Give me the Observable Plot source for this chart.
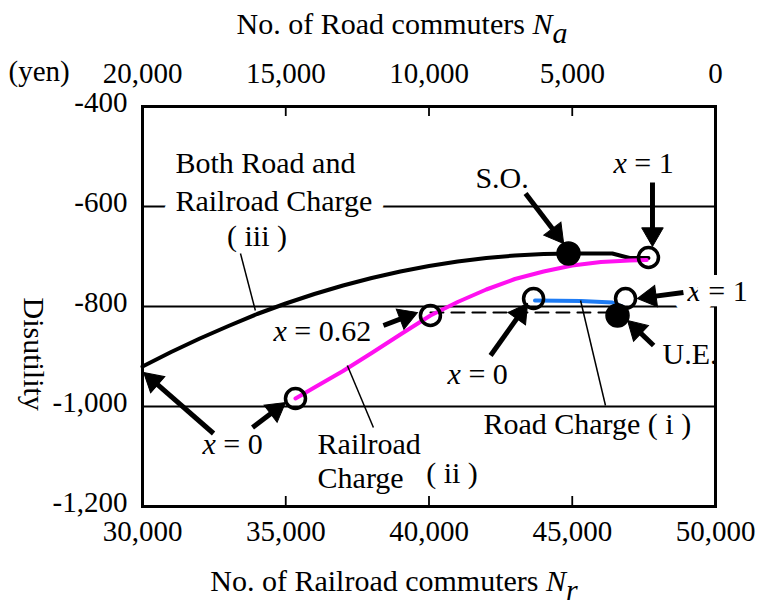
<!DOCTYPE html>
<html><head><meta charset="utf-8">
<script src="https://cdn.jsdelivr.net/npm/d3@7"></script>
<script src="https://cdn.jsdelivr.net/npm/@observablehq/plot@0.6"></script>
<style>body{margin:0;background:#fff}</style>
</head><body><div id="chart"></div>
<script>
// ---------- axis ticks ----------
const xTickValues = [30000, 35000, 40000, 45000, 50000];
const xTickLabels = ["30,000", "35,000", "40,000", "45,000", "50,000"];
const topTickLabels = ["20,000", "15,000", "10,000", "5,000", "0"];
const yTickValues = [-400, -600, -800, -1000, -1200];
const yTickLabels = ["-400", "-600", "-800", "-1,000", "-1,200"];
const gridValues = [-600, -800, -1000];

// ---------- series ----------
// (iii) Both Road and Railroad Charge
const bothNr = [30000, 31000, 32000, 33000, 34000, 35000, 36000, 37000, 38000, 39000, 40000, 41000, 42000, 43000, 44000, 45000, 46400, 47000, 47660];
const bothU  = [-920, -891, -864, -839, -815, -794, -775, -758, -743, -730, -719, -710, -703, -698, -695, -694, -694, -703, -703];
// (ii) Railroad Charge
const railNr = [35340, 36000, 37000, 38000, 39000, 40050, 41000, 42000, 43000, 44000, 45000, 46000, 47000, 47600];
const railU  = [-984, -962, -929, -893, -856, -818, -791, -766, -745, -730, -718, -711, -708, -707];
// (i) Road Charge
const roadNr = [43700, 45300, 46400, 46750];
const roadU  = [-788, -789, -792, -800];
// dashed reference (x = 0.62 to U.E.)
const dashNr = [40050, 46580];
const dashU  = [-812, -812];
// open circles (x = 0, 0.62, 1 end points)
const openNr = [35340, 40050, 43650, 46860, 47660];
const openU  = [-984, -818, -784, -784, -702];
// filled points
const solidName = ["S.O.", "U.E."];
const solidNr = [44870, 46580];
const solidU  = [-694, -818];

// ---------- annotations ----------
const labelText = ["Both Road and", "( iii )", "S.O.", "x = 1", "U.E.", "x = 0", "Road Charge ( i )", "x = 0.62", "x = 0", "Railroad", "Charge", "( ii )"];
const labelNr   = [31150, 32950, 41620, 46440, 48150, 40650, 41900, 34570, 32090, 36110, 36110, 39900];
const labelU    = [-532, -678, -562, -532, -914, -954, -1054, -868, -1094, -1094, -1162, -1152];
const maskText = ["Railroad Charge", "x = 1"];
const maskNr   = [31150, 49020];
const maskU    = [-608, -788];

const arrowTailNr = [43370, 47800, 48880, 47840, 42150, 38410, 33840, 32480];
const arrowTailU  = [-574, -552, -772, -878, -898, -838, -1042, -1054];
const arrowTipNr  = [44700, 47800, 47280, 46930, 43440, 39600, 34990, 30040];
const arrowTipU   = [-674, -680, -784, -828, -794, -812, -992, -932];

const pointerFromNr = [33420, 37150, 45290];
const pointerFromU  = [-694, -918, -788];
const pointerToNr   = [33940, 38060, 46160];
const pointerToU    = [-808, -1042, -998];

const topTitle = "No. of Road commuters Na";
const bottomTitle = "No. of Railroad commuters Nr";
const yTitle = "Disutility";
const unitText = "(yen)";

// ---------- layout ----------
const W = 762, H = 604, ML = 142, MR = 47, MT = 106, MB = 98;
const FONT = "'Liberation Serif', 'Times New Roman', serif";

const zip2 = (xs, ys) => xs.map((x, i) => ({x, y: ys[i]}));
const both = zip2(bothNr, bothU);
const rail = zip2(railNr, railU);
const road = zip2(roadNr, roadU);
const dash = zip2(dashNr, dashU);
const opens = zip2(openNr, openU);
const solids = zip2(solidNr, solidU);
const labels = labelText.map((t, i) => ({t, x: labelNr[i], y: labelU[i]}));
const masks = maskText.map((t, i) => ({t, x: maskNr[i], y: maskU[i]}));
const pointers = pointerFromNr.map((x, i) => ({x1: x, y1: pointerFromU[i], x2: pointerToNr[i], y2: pointerToU[i]}));

// mirror of the plot's scales, used to orient arrow heads
const sx = d3.scaleLinear([30000, 50000], [ML, W - MR]);
const sy = d3.scaleLinear([-1200, -400], [H - MB, MT]);
const HEAD_R = 8;
const headBack = 2 * Math.sqrt((HEAD_R * HEAD_R * Math.PI) / (3 * Math.sqrt(3)));
const arrows = arrowTailNr.map((x1, i) => {
  const px1 = sx(x1), py1 = sy(arrowTailU[i]);
  const px2 = sx(arrowTipNr[i]), py2 = sy(arrowTipU[i]);
  const dx = px2 - px1, dy = py2 - py1, len = Math.hypot(dx, dy);
  const cx = px2 - dx / len * headBack, cy = py2 - dy / len * headBack;
  return {x1, y1: arrowTailU[i], hx: sx.invert(cx), hy: sy.invert(cy),
          angle: Math.atan2(dx, -dy) * 180 / Math.PI};
});

const chart = Plot.plot({
  width: W, height: H,
  marginLeft: ML, marginRight: MR, marginTop: MT, marginBottom: MB,
  x: {domain: [30000, 50000]},
  y: {domain: [-1200, -400]},
  style: {fontFamily: FONT, fontSize: "29px", background: "white", color: "black"},
  marks: [
    Plot.ruleY(gridValues, {stroke: "black", strokeWidth: 1.8}),
    Plot.ruleX(xTickValues.slice(1, -1), {y1: -1200, y2: -1180, stroke: "black", strokeWidth: 1.8}),
    Plot.ruleX(xTickValues.slice(1, -1), {y1: -400, y2: -420, stroke: "black", strokeWidth: 1.8}),
    Plot.frame({stroke: "black", strokeWidth: 3}),
    Plot.axisX({anchor: "bottom", ticks: xTickValues, tickSize: 0, tickPadding: 14, fontSize: 29,
      tickFormat: d => xTickLabels[xTickValues.indexOf(d)], label: null}),
    Plot.axisX({anchor: "top", ticks: xTickValues, tickSize: 0, tickPadding: 24, fontSize: 29,
      tickFormat: d => topTickLabels[xTickValues.indexOf(d)], label: null}),
    Plot.axisY({anchor: "left", ticks: yTickValues, tickSize: 0, tickPadding: 15, fontSize: 29, dy: -4,
      tickFormat: d => yTickLabels[yTickValues.indexOf(d)], label: null}),
    // labels with a white mask behind them
    Plot.text(masks, {x: "x", y: "y", text: "t", textAnchor: "start", lineAnchor: "bottom", fontSize: 30,
      fill: "black", stroke: "white", strokeWidth: 24, strokeLinejoin: "round", paintOrder: "stroke"}),
    // curves
    Plot.line(dash, {x: "x", y: "y", stroke: "black", strokeWidth: 2, strokeDasharray: "13,8"}),
    Plot.line(both, {x: "x", y: "y", stroke: "black", strokeWidth: 4}),
    Plot.line(rail, {x: "x", y: "y", stroke: "#ff10f0", strokeWidth: 4}),
    Plot.line(road, {x: "x", y: "y", stroke: "#1e7cf5", strokeWidth: 4}),
    // thin pointer lines
    Plot.link(pointers, {x1: "x1", y1: "y1", x2: "x2", y2: "y2", stroke: "black", strokeWidth: 1.5}),
    // arrows
    Plot.link(arrows, {x1: "x1", y1: "y1", x2: "hx", y2: "hy", stroke: "black", strokeWidth: 5}),
    Plot.dot(arrows, {x: "hx", y: "hy", symbol: "triangle", r: HEAD_R, fill: "black", stroke: "black", strokeWidth: 1, rotate: "angle"}),
    // points
    Plot.dot(opens, {x: "x", y: "y", r: 10, stroke: "black", strokeWidth: 3.5, fill: "none"}),
    Plot.dot(solids, {x: "x", y: "y", r: 11.5, fill: "black", stroke: "black"}),
    // texts
    Plot.text(labels, {x: "x", y: "y", text: "t", textAnchor: "start", lineAnchor: "bottom", fontSize: 30, fill: "black"}),
    Plot.text([topTitle], {frameAnchor: "top", dx: -27, dy: -73, lineAnchor: "bottom", fontSize: 30, fill: "black"}),
    Plot.text([bottomTitle], {frameAnchor: "bottom", dx: -35, dy: 84, lineAnchor: "bottom", fontSize: 30, fill: "black"}),
    Plot.text([unitText], {frameAnchor: "top-left", dx: -134, dy: -26, textAnchor: "start", lineAnchor: "bottom", fontSize: 29, fill: "black"}),
    Plot.text([yTitle], {frameAnchor: "left", rotate: 90, dx: -109, dy: -9, fontSize: 30, fill: "black"})
  ]
});

// rich text: italic variables and subscripts
function richify(el, parts) {
  while (el.firstChild) el.removeChild(el.firstChild);
  for (const p of parts) {
    const ts = document.createElementNS("http://www.w3.org/2000/svg", "tspan");
    ts.textContent = p.t;
    if (p.i) ts.setAttribute("font-style", "italic");
    if (p.dy) ts.setAttribute("dy", p.dy);
    el.appendChild(ts);
  }
}
d3.select(chart).selectAll("text").each(function () {
  const t = this.textContent;
  let m;
  if ((m = /^x = (.*)$/.exec(t))) {
    richify(this, [{t: "x", i: true}, {t: " = " + m[1]}]);
  } else if ((m = /^(.*) N([ar])$/.exec(t))) {
    richify(this, [{t: m[1] + " "}, {t: "N", i: true}, {t: m[2], i: true, dy: "0.3em"}]);
  }
});

document.getElementById("chart").appendChild(chart);
</script>
</body></html>
